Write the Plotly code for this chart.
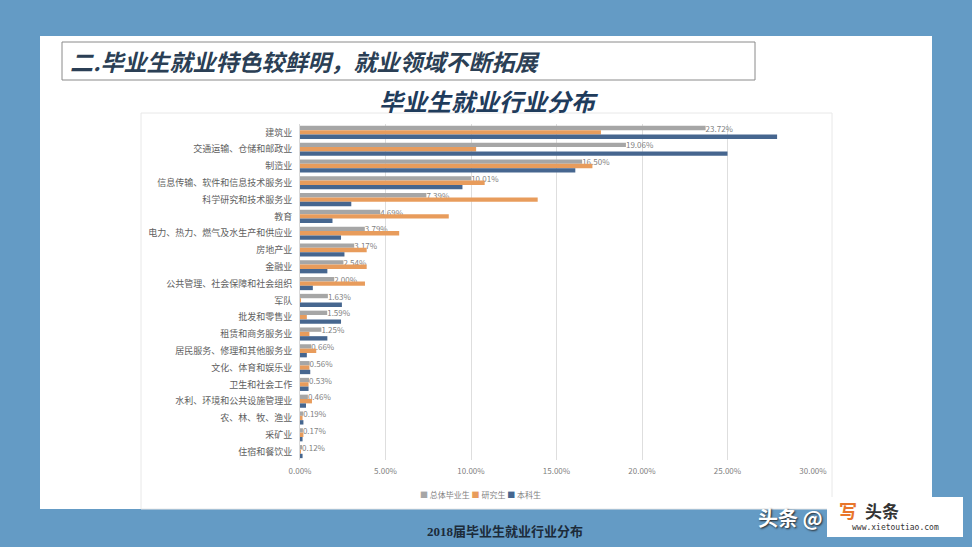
import plotly.graph_objects as go

categories = ["建筑业", "交通运输、仓储和邮政业", "制造业", "信息传输、软件和信息技术服务业",
              "科学研究和技术服务业", "教育", "电力、热力、燃气及水生产和供应业", "房地产业",
              "金融业", "公共管理、社会保障和社会组织", "军队", "批发和零售业", "租赁和商务服务业",
              "居民服务、修理和其他服务业", "文化、体育和娱乐业", "卫生和社会工作",
              "水利、环境和公共设施管理业", "农、林、牧、渔业", "采矿业", "住宿和餐饮业"]
total = [23.72, 19.06, 16.50, 10.01, 7.39, 4.69, 3.79, 3.17, 2.54, 2.00,
         1.63, 1.59, 1.25, 0.66, 0.56, 0.53, 0.46, 0.19, 0.17, 0.12]
graduate = [17.6, 10.3, 17.1, 10.8, 13.9, 8.7, 5.8, 3.9, 3.9, 3.8,
            0.05, 0.4, 0.55, 0.95, 0.55, 0.5, 0.7, 0.15, 0.2, 0.05]
undergrad = [27.9, 25.0, 16.1, 9.5, 3.0, 1.9, 2.4, 2.6, 1.6, 0.75,
             2.45, 2.4, 1.6, 0.4, 0.6, 0.5, 0.35, 0.2, 0.15, 0.15]
series_names = ["总体毕业生", "研究生", "本科生"]
x_ticks = [0, 5, 10, 15, 20, 25, 30]
x_tick_labels = ["0.00%", "5.00%", "10.00%", "15.00%", "20.00%", "25.00%", "30.00%"]

COLORS = ["#a6a6a6", "#e89c5c", "#46668f"]
W, H = 972, 547
CJK = "Noto Sans CJK SC"


def fx(x):
    return x / W


def fy(y):
    return 1 - y / H


fig = go.Figure()
for name, vals, col in zip(series_names, [total, graduate, undergrad], COLORS):
    kw = {}
    if name == "总体毕业生":
        kw = dict(texttemplate="%{x:.2f}%", textposition="outside",
                  textfont=dict(size=8, color="#7f7f7f", family=CJK),
                  cliponaxis=False, constraintext="none")
    fig.add_trace(go.Bar(y=categories, x=vals, orientation="h", name=name,
                         marker=dict(color=col, line=dict(width=0)), **kw))

P = dict(xref="paper", yref="paper")
shapes = [
    # white slide
    dict(type="rect", x0=fx(40), x1=fx(932), y0=fy(36), y1=fy(509),
         fillcolor="white", line=dict(width=0), layer="below", **P),
    # title box
    dict(type="rect", x0=fx(62), x1=fx(755), y0=fy(42), y1=fy(80),
         fillcolor="white", line=dict(color="#8a8a8a", width=1), layer="below", **P),
    # chart frame
    dict(type="rect", x0=fx(141), x1=fx(832), y0=fy(113), y1=fy(509),
         fillcolor="rgba(0,0,0,0)", line=dict(color="#e8e8e8", width=1), layer="below", **P),
    # watermark box
    dict(type="rect", x0=fx(827), x1=fx(963), y0=fy(497), y1=fy(537),
         fillcolor="white", line=dict(width=0), layer="above", **P),
]

annotations = [
    dict(text="<b><i>二.毕业生就业特色较鲜明，就业领域不断拓展</i></b>", x=fx(68), y=fy(61),
         xanchor="left", yanchor="middle", showarrow=False,
         font=dict(size=23, color="#2b3f55", family=CJK, style="italic"), **P),
    dict(text="<b><i>毕业生就业行业分布</i></b>", x=fx(489), y=fy(100),
         xanchor="center", yanchor="middle", showarrow=False,
         font=dict(size=24, color="#1f3c5c", family=CJK, style="italic"), **P),
    dict(text=("<span style='color:%s'>■</span> 总体毕业生 "
               "<span style='color:%s'>■</span> 研究生 "
               "<span style='color:%s'>■</span> 本科生") % tuple(COLORS),
         x=fx(480), y=fy(494), xanchor="center", yanchor="middle", showarrow=False,
         font=dict(size=8, color="#7f7f7f", family=CJK), **P),
    dict(text="<b>2018届毕业生就业行业分布</b>", x=fx(505), y=fy(531),
         xanchor="center", yanchor="middle", showarrow=False,
         font=dict(size=13, color="#1c2b3a", family="Liberation Serif, " + CJK), **P),
    dict(text="<b>头条 @</b>", x=fx(790), y=fy(517), xanchor="center", yanchor="middle",
         showarrow=False,
         font=dict(size=20, color="white", family=CJK, shadow="1px 1px 2px #222"), **P),
    dict(text="<b>写</b>", x=fx(848), y=fy(510), xanchor="center", yanchor="middle",
         showarrow=False, font=dict(size=18, color="#e8762b", family=CJK), **P),
    dict(text="<b>头条</b>", x=fx(882), y=fy(510), xanchor="center", yanchor="middle",
         showarrow=False, font=dict(size=17, color="#333333", family=CJK), **P),
    dict(text="www.xietoutiao.com", x=fx(895), y=fy(527), xanchor="center", yanchor="middle",
         showarrow=False, font=dict(size=8, color="#333333", family="DejaVu Sans Mono"), **P),
]

fig.update_layout(
    width=W, height=H, margin=dict(l=0, r=0, t=0, b=0),
    paper_bgcolor="#649bc5", plot_bgcolor="rgba(0,0,0,0)",
    barmode="group", bargap=0.22, bargroupgap=0,
    showlegend=False,
    font=dict(family=CJK),
    shapes=shapes, annotations=annotations,
    xaxis=dict(domain=[fx(300), fx(813)], range=[0, 30], tickmode="array",
               tickvals=x_ticks, ticktext=x_tick_labels,
               showgrid=True, gridcolor="#dedede",
               gridwidth=1, zeroline=False, showline=False, automargin=False,
               tickfont=dict(size=8, color="#7f7f7f", family=CJK), ticklabelstandoff=5),
    yaxis=dict(domain=[fy(460), fy(124)], categoryorder="array", categoryarray=categories,
               autorange="reversed", showgrid=False, zeroline=False, showline=True,
               linecolor="#d9d9d9", automargin=False, ticks="",
               tickfont=dict(size=9, color="#606060", family=CJK), ticklabelstandoff=5),
)

fig.write_html("out.html")
